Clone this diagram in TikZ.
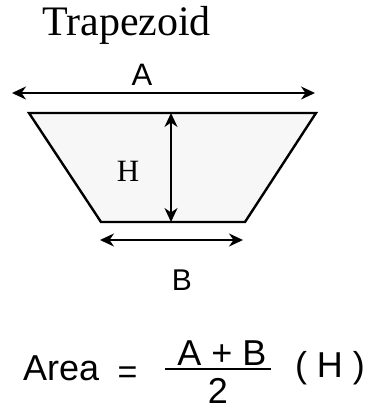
\documentclass[tikz,border=0pt]{standalone}
\usepackage{fontspec}
\setmainfont{Liberation Serif}
\setsansfont{Liberation Sans}
\usetikzlibrary{arrows.meta}
\definecolor{shade}{HTML}{F7F7F7}
\tikzset{
  dimarrow/.style={line width=2pt, {Stealth[length=14pt,width=13pt,inset=4.5pt]}-{Stealth[length=14pt,width=13pt,inset=4.5pt]}},
  outline/.style={line width=2.4pt, draw=black, fill=shade, line join=miter},
  lbl/.style={inner sep=0pt, anchor=base},
}
\begin{document}
\begin{tikzpicture}[x=1pt,y=-1pt]
\useasboundingbox (0,0) rectangle (373,410);
% title
\node[lbl, anchor=base west, font=\fontsize{42}{48}\selectfont] (title) at (42,35) {Trapezoid};
% trapezoid
\coordinate (tl) at (29,113);
\coordinate (tr) at (316,113);
\coordinate (br) at (245,222);
\coordinate (bl) at (101,222);
\draw[outline] (tl) -- (tr) -- (br) -- (bl) -- cycle;
% A dimension
\coordinate (aL) at (12,93);
\coordinate (aR) at (315,93);
\draw[dimarrow] (aL) -- (aR);
\node[lbl, font=\sffamily\fontsize{31}{36}\selectfont] (A) at (142,85) {A};
% H dimension
\coordinate (hT) at (171,113);
\coordinate (hB) at (171,222);
\draw[dimarrow] (hT) -- (hB);
\node[lbl, font=\fontsize{31}{36}\selectfont] (H) at (128,181) {H};
% B dimension
\coordinate (bL) at (100,240);
\coordinate (bR) at (243,240);
\draw[dimarrow] (bL) -- (bR);
\node[lbl, font=\sffamily\fontsize{30}{36}\selectfont] (B) at (182,290) {B};
% formula
\node[lbl, anchor=base west, font=\sffamily\fontsize{36}{42}\selectfont] (area) at (23,380) {Area};
\node[lbl, font=\sffamily\fontsize{34}{40}\selectfont] (eq) at (127.5,383) {=};
\node[lbl, font=\sffamily\fontsize{36}{42}\selectfont] (num) at (222,365) {A + B};
\coordinate (fbL) at (165,369);
\coordinate (fbR) at (271,369);
\draw[line width=2pt] (fbL) -- (fbR);
\node[lbl, font=\sffamily\fontsize{36}{42}\selectfont] (den) at (218,403) {2};
\node[lbl, font=\sffamily\fontsize{36}{42}\selectfont] (hp) at (330,377) {( H )};
\end{tikzpicture}
\end{document}
